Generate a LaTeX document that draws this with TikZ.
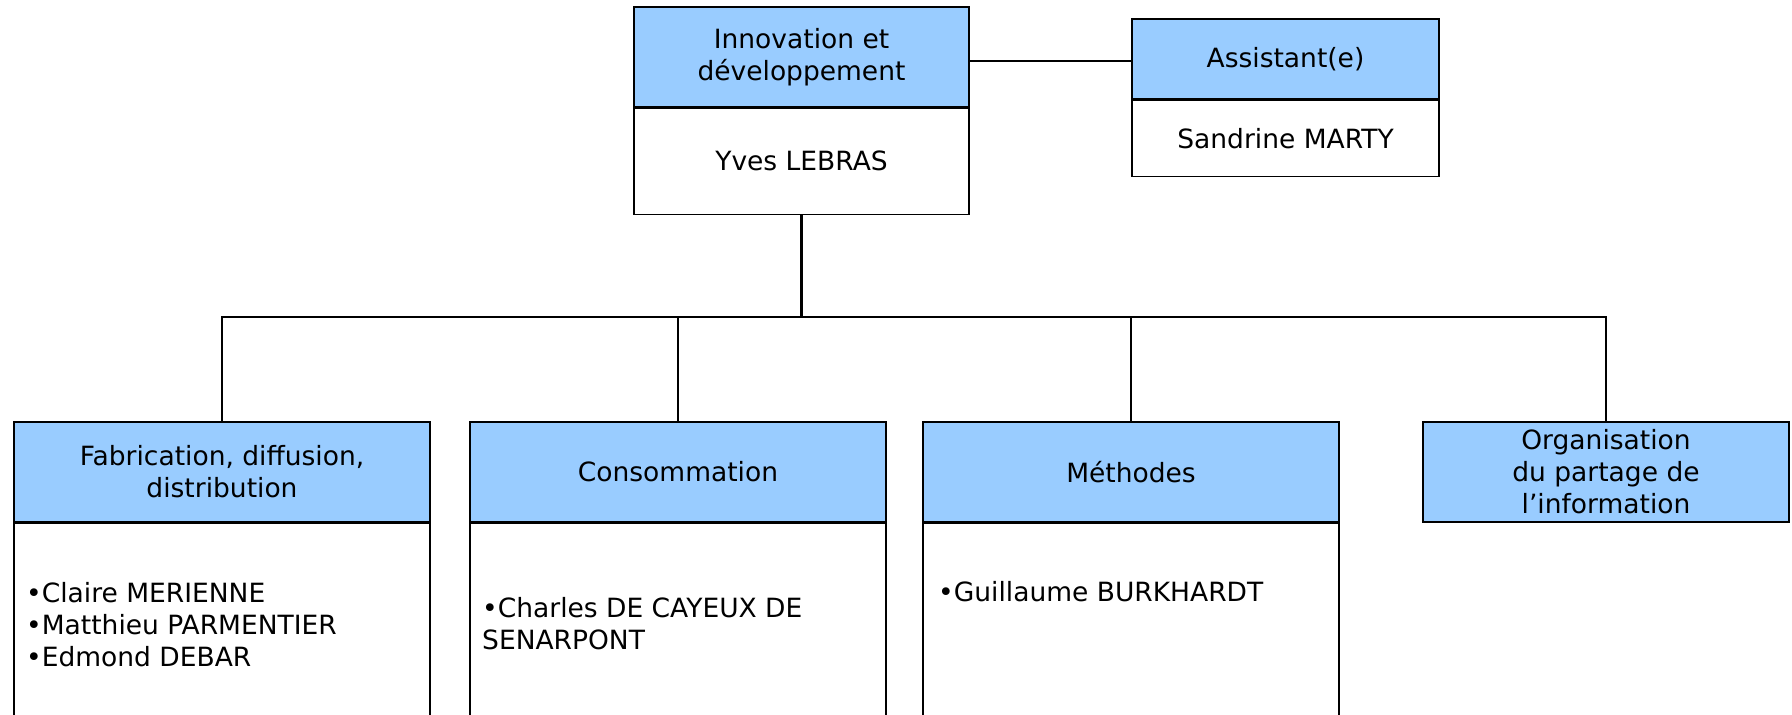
\documentclass[tikz,border=0pt]{standalone}
\usepackage{fontspec}
\setmainfont{DejaVu Sans}
\usetikzlibrary{positioning}
\definecolor{headblue}{HTML}{99CCFF}

\begin{document}
\begin{tikzpicture}[x=1pt,y=-1pt,
  every node/.style={font=\fontsize{26.5}{32}\selectfont},
  headbox/.style={draw,line width=1.3pt,fill=headblue,minimum height=100pt,align=center,inner sep=0pt},
  bodybox/.style={draw,line width=1.3pt,fill=white,inner sep=0pt},
  namelist/.style={anchor=west,align=left,inner sep=0pt},
  link/.style={line width=1.3pt},
  stem/.style={line width=2.8pt}]
  \useasboundingbox (0,0) rectangle (1792,715);
  \clip (0,0) rectangle (1792,715);

  % direction and assistant
  \node[headbox,minimum width=335pt] (innov) at (801.5,57) {Innovation et\\développement};
  \node[bodybox,minimum width=335pt,minimum height=106pt,below=0pt of innov] (innovb) {Yves LEBRAS};
  \node[headbox,minimum width=307pt,minimum height=80pt] (assist) at (1285.5,59) {Assistant(e)};
  \node[bodybox,minimum width=307pt,minimum height=76pt,below=0pt of assist] (assistb) {Sandrine MARTY};

  % departments
  \node[headbox,minimum width=416pt] (fab) at (222,472) {Fabrication, diffusion,\\distribution};
  \node[bodybox,minimum width=416pt,minimum height=218pt,below=0pt of fab] (fabb) {};
  \node[headbox,minimum width=416pt] (cons) at (678,472) {Consommation};
  \node[bodybox,minimum width=416pt,minimum height=218pt,below=0pt of cons] (consb) {};
  \node[headbox,minimum width=416pt] (meth) at (1131,472) {Méthodes};
  \node[bodybox,minimum width=416pt,minimum height=218pt,below=0pt of meth] (methb) {};
  \node[headbox,minimum width=366pt] (orga) at (1606,472) {Organisation\\du partage de\\l’information};

  % members
  \node[namelist] (fabl) at (26,625) {•Claire MERIENNE\\•Matthieu PARMENTIER\\•Edmond DEBAR};
  \node[namelist] (consl) at (482,624) {•Charles DE CAYEUX DE\\SENARPONT};
  \node[namelist] (methl) at (938,592) {•Guillaume BURKHARDT};

  % links
  \coordinate (bus) at (801.5,317);
  \coordinate (side) at (1131,61);
  \draw[link] (innov.east |- side) -- (side);
  \draw[stem] (innovb.south) -- (bus);
  \draw[link] (fab.north) |- (bus) -| (orga.north);
  \draw[link] (cons.north) -- (cons.north |- bus);
  \draw[link] (meth.north) -- (meth.north |- bus);
  \draw[stem] (cons.north |- bus) -- (bus);
  \draw[line width=1.9pt] (bus) -- (meth.north |- bus);
\end{tikzpicture}
\end{document}
